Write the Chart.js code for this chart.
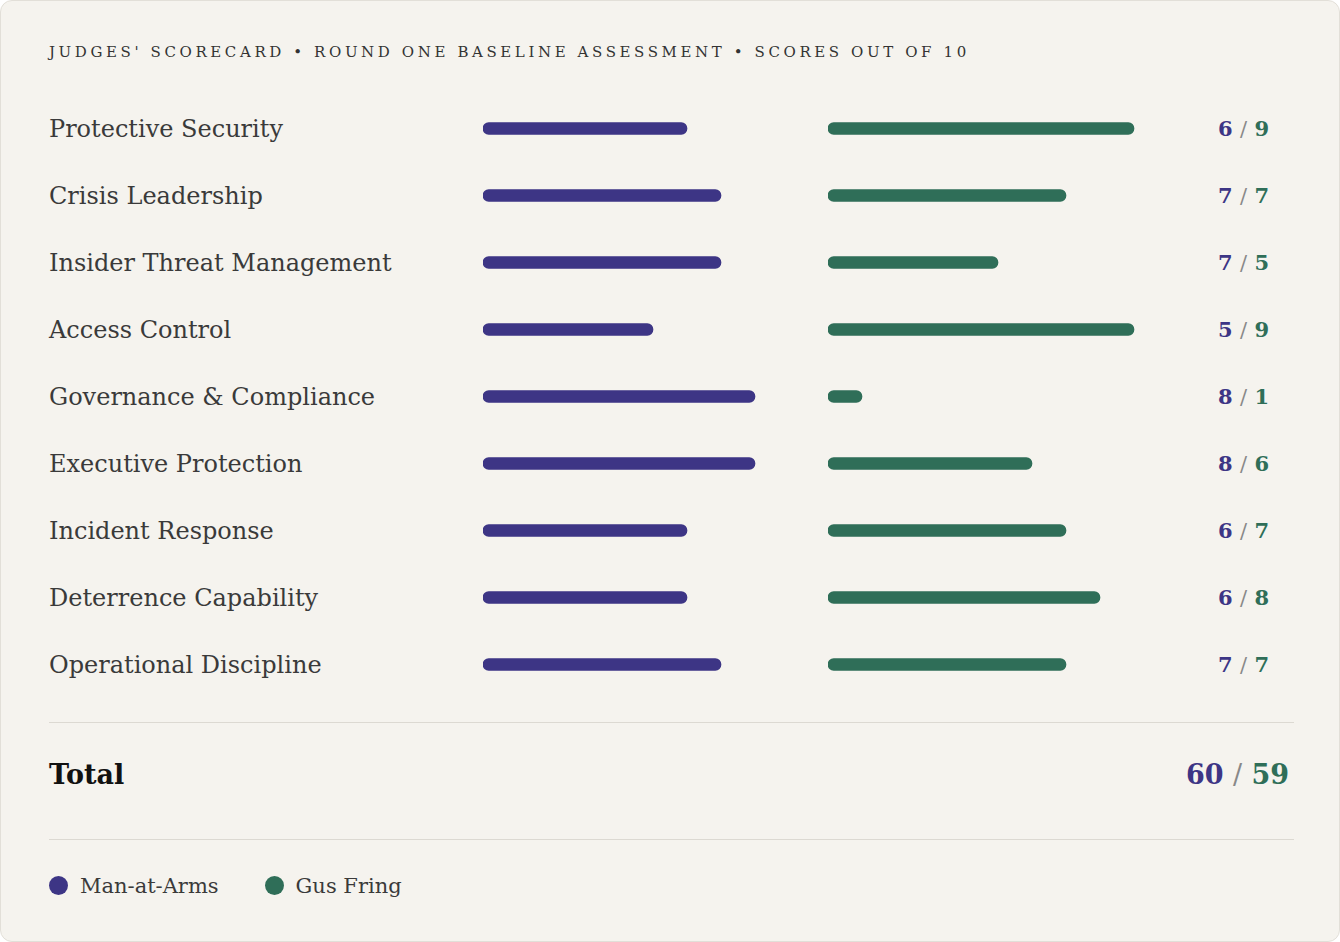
<!DOCTYPE html>
<html><head><meta charset="utf-8">
<script src="https://cdn.jsdelivr.net/npm/chart.js@4"></script>
<style>
  body { margin:0; background:#fff; font-family:"DejaVu Serif", serif; }
  .card { position:relative; width:1338px; height:940px; background:#f5f3ee; border:1px solid #e2dfd8; border-radius:12px; }
  .title { position:absolute; left:48px; top:42px; font-size:15px; letter-spacing:3.6px; color:#333; }
  .rows { position:absolute; left:48px; top:94px; width:1220px; }
  .row { height:67px; display:flex; align-items:center; justify-content:space-between; }
  .lbl { font-size:24px; color:#3a3a3a; }
  .sc { font-size:21px; font-weight:bold; }
  .p { color:#3d3585; } .g { color:#2f6e58; } .s { color:#888; font-weight:normal; }
  .chart { position:absolute; top:94px; width:340px; height:603px; }
  .hr { position:absolute; left:48px; width:1245px; border-top:1px solid #dcd9d2; }
  .total { position:absolute; left:48px; top:758px; font-size:27px; font-weight:bold; color:#111; }
  .ttot { position:absolute; right:50px; top:758px; font-size:27px; font-weight:bold; }
  .legend { position:absolute; left:48px; top:873px; font-size:21px; color:#3a3a3a; display:flex; gap:46px; }
  .dot { display:inline-block; width:19px; height:19px; border-radius:50%; vertical-align:-2px; margin-right:12px; }
</style></head>
<body>
<div class="card">
  <div class="title">JUDGES' SCORECARD • ROUND ONE BASELINE ASSESSMENT • SCORES OUT OF 10</div>
  <div class="rows" id="rows"></div>
  <div class="chart" style="left:482px"><canvas id="c1"></canvas></div>
  <div class="chart" style="left:827px"><canvas id="c2"></canvas></div>
  <div class="hr" style="top:721px"></div>
  <div class="total">Total</div>
  <div class="ttot" id="tot"></div>
  <div class="hr" style="top:838px"></div>
  <div class="legend" id="legend"></div>
</div>
<script>
const categories = ['Protective Security','Crisis Leadership','Insider Threat Management','Access Control','Governance & Compliance','Executive Protection','Incident Response','Deterrence Capability','Operational Discipline'];
const manAtArms = [6,7,7,5,8,8,6,6,7];
const gusFring = [9,7,5,9,1,6,7,8,7];
const seriesNames = ['Man-at-Arms','Gus Fring'];
const colors = ['#3d3585','#2f6e58'];
const maxScore = 10;

const rows = document.getElementById('rows');
categories.forEach((c, i) => {
  rows.insertAdjacentHTML('beforeend',
    `<div class="row"><span class="lbl">${c.replace('&','&amp;')}</span><span class="sc"><span class="p">${manAtArms[i]}</span> <span class="s">/</span> <span class="g">${gusFring[i]}</span></span></div>`);
});
const sum = a => a.reduce((x, y) => x + y, 0);
document.getElementById('tot').innerHTML =
  `<span class="p">${sum(manAtArms)}</span> <span class="s">/</span> <span class="g">${sum(gusFring)}</span>`;
document.getElementById('legend').innerHTML = seriesNames.map((n, i) =>
  `<span><span class="dot" style="background:${colors[i]}"></span>${n}</span>`).join('');

function makeChart(id, data, color) {
  new Chart(document.getElementById(id), {
    type: 'bar',
    data: { labels: categories, datasets: [{ data, backgroundColor: color, barThickness: 12, borderRadius: 6, borderSkipped: false }] },
    options: {
      indexAxis: 'y', responsive: true, maintainAspectRatio: false, animation: false,
      layout: { padding: 0 },
      scales: { x: { display: false, min: 0, max: maxScore }, y: { display: false } },
      plugins: { legend: { display: false }, tooltip: { enabled: false } }
    }
  });
}
makeChart('c1', manAtArms, colors[0]);
makeChart('c2', gusFring, colors[1]);
</script>
</body></html>
